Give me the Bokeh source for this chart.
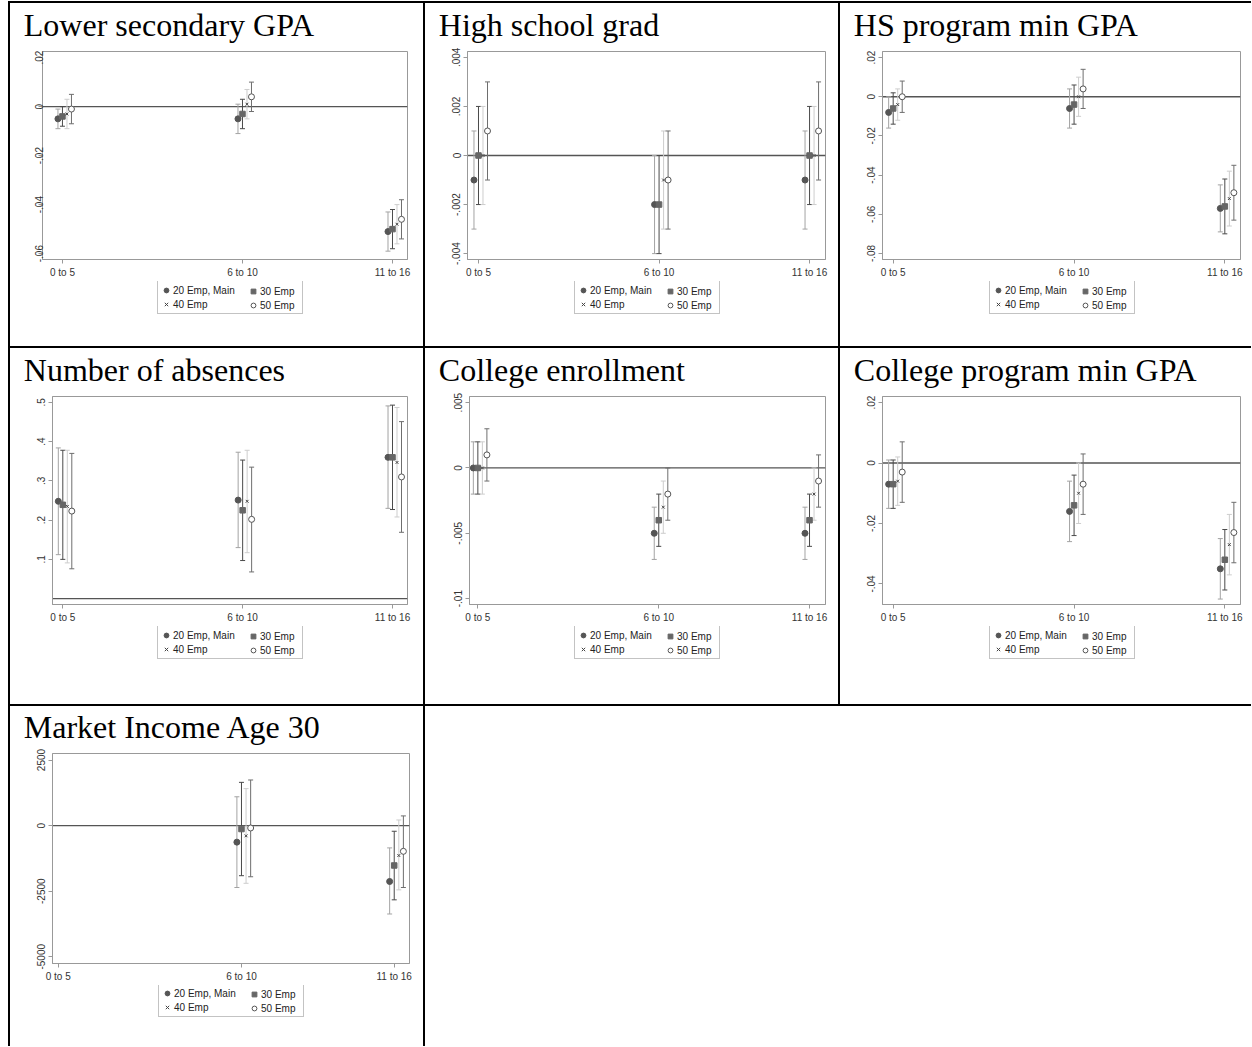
from bokeh.plotting import figure
from bokeh.models import (Range1d, FixedTicker, Span, Whisker, TeeHead, ColumnDataSource,
                          Legend, LegendItem, Div)
from bokeh.layouts import row, column
from bokeh.embed import file_html
from bokeh.resources import INLINE

# ---------------- data ----------------
group_labels = ["0 to 5", "6 to 10", "11 to 16"]
group_x = [0, 6, 11]
series_names = ["20 Emp, Main", "30 Emp", "40 Emp", "50 Emp"]

# Lower secondary GPA  (rows = series 20/30/40/50, cols = groups)
lsgpa_est = [[-0.005, -0.005, -0.051], [-0.004, -0.003, -0.050], [-0.003, 0.001, -0.048], [-0.001, 0.004, -0.046]]
lsgpa_lo = [[-0.009, -0.011, -0.059], [-0.008, -0.009, -0.058], [-0.009, -0.005, -0.056], [-0.007, -0.002, -0.054]]
lsgpa_hi = [[-0.001, 0.001, -0.043], [0.000, 0.003, -0.042], [0.003, 0.007, -0.040], [0.005, 0.010, -0.038]]
lsgpa_yticks = [0.02, 0, -0.02, -0.04, -0.06]
lsgpa_ylabels = [".02", "0", "-.02", "-.04", "-.06"]

# High school grad
hsg_est = [[-0.001, -0.002, -0.001], [0.000, -0.002, 0.000], [0.000, -0.001, 0.000], [0.001, -0.001, 0.001]]
hsg_lo = [[-0.003, -0.004, -0.003], [-0.002, -0.004, -0.002], [-0.002, -0.003, -0.002], [-0.001, -0.003, -0.001]]
hsg_hi = [[0.001, 0.000, 0.001], [0.002, 0.000, 0.002], [0.002, 0.001, 0.002], [0.003, 0.001, 0.003]]
hsg_yticks = [0.004, 0.002, 0, -0.002, -0.004]
hsg_ylabels = [".004", ".002", "0", "-.002", "-.004"]

# HS program min GPA
hsp_est = [[-0.008, -0.006, -0.057], [-0.006, -0.004, -0.056], [-0.004, 0.000, -0.052], [0.000, 0.004, -0.049]]
hsp_lo = [[-0.016, -0.016, -0.069], [-0.014, -0.014, -0.070], [-0.012, -0.010, -0.066], [-0.008, -0.006, -0.063]]
hsp_hi = [[0.000, 0.004, -0.045], [0.002, 0.006, -0.042], [0.004, 0.010, -0.038], [0.008, 0.014, -0.035]]
hsp_yticks = [0.02, 0, -0.02, -0.04, -0.06, -0.08]
hsp_ylabels = [".02", "0", "-.02", "-.04", "-.06", "-.08"]

# Number of absences
abs_est = [[0.248, 0.251, 0.360], [0.239, 0.225, 0.360], [0.235, 0.248, 0.347], [0.223, 0.202, 0.310]]
abs_lo = [[0.112, 0.130, 0.230], [0.100, 0.097, 0.227], [0.091, 0.117, 0.208], [0.076, 0.068, 0.169]]
abs_hi = [[0.384, 0.373, 0.491], [0.378, 0.353, 0.493], [0.378, 0.378, 0.487], [0.370, 0.335, 0.451]]
abs_yticks = [0.5, 0.4, 0.3, 0.2, 0.1]
abs_ylabels = [".5", ".4", ".3", ".2", ".1"]

# College enrollment
ce_est = [[0.000, -0.005, -0.005], [0.000, -0.004, -0.004], [0.000, -0.003, -0.002], [0.001, -0.002, -0.001]]
ce_lo = [[-0.002, -0.007, -0.007], [-0.002, -0.006, -0.006], [-0.002, -0.005, -0.004], [-0.001, -0.004, -0.003]]
ce_hi = [[0.002, -0.003, -0.003], [0.002, -0.002, -0.002], [0.002, -0.001, 0.000], [0.003, 0.000, 0.001]]
ce_yticks = [0.005, 0, -0.005, -0.01]
ce_ylabels = [".005", "0", "-.005", "-.01"]

# College program min GPA
cp_est = [[-0.007, -0.016, -0.035], [-0.007, -0.014, -0.032], [-0.006, -0.010, -0.027], [-0.003, -0.007, -0.023]]
cp_lo = [[-0.015, -0.026, -0.045], [-0.015, -0.024, -0.042], [-0.014, -0.020, -0.037], [-0.013, -0.017, -0.033]]
cp_hi = [[0.001, -0.006, -0.025], [0.001, -0.004, -0.022], [0.002, 0.000, -0.017], [0.007, 0.003, -0.013]]
cp_yticks = [0.02, 0, -0.02, -0.04]
cp_ylabels = [".02", "0", "-.02", "-.04"]

# Market Income Age 30 (no estimate for 0 to 5)
inc_est = [[None, -630, -2130], [None, -130, -1520], [None, -390, -1140], [None, -90, -980]]
inc_lo = [[None, -2360, -3370], [None, -1910, -2830], [None, -2200, -2450], [None, -1950, -2360]]
inc_hi = [[None, 1100, -850], [None, 1650, -215], [None, 1410, 215], [None, 1740, 370]]
inc_yticks = [2500, 0, -2500, -5000]
inc_ylabels = ["2500", "0", "-2500", "-5000"]

# ---------------- style ----------------
OFFSETS = [-0.15, 0.0, 0.15, 0.3]
BAR_COLORS = ["#a3a3a3", "#4a4a4a", "#cdcdcd", "#6e6e6e"]
MARKERS = ["circle", "square", "x", "circle"]
M_FILL = ["#555555", "#666666", None, "white"]
M_LINE = ["#555555", "#666666", "#444444", "#555555"]
M_SIZE = [6, 5.5, 4, 6]
AXIS_GRAY = "#999999"
TXT = "#333333"
AXIS_SPACE = 22          # room under the frame for the x tick labels
LIFT = 10                # main figure starts this much above its cell (transparent border)
LEG_TOP = 279            # legend box top, from the cell top
LEG_H = 32


def marker_kw(i):
    return dict(marker=MARKERS[i], size=M_SIZE[i], fill_color=M_FILL[i],
                line_color=M_LINE[i], line_width=1)


def make_cell(title, est, lo, hi, yticks, ylabels, yr, xr, w, h, bl, br, bt, fb, leg_left,
              ystand=3):
    main_h = fb + AXIS_SPACE + LIFT
    p = figure(width=w, height=main_h, x_range=Range1d(*xr), y_range=Range1d(*yr),
               output_backend="svg", toolbar_location=None,
               min_border_left=bl, min_border_right=br, min_border_top=bt + LIFT,
               min_border_bottom=AXIS_SPACE, margin=(-LIFT, 0, 0, 0))
    p.grid.visible = False
    p.outline_line_color = AXIS_GRAY
    p.outline_line_width = 1
    p.background_fill_color = "white"
    p.border_fill_alpha = 0

    p.title.text = title
    p.title.text_font = "Liberation Serif"
    p.title.text_font_size = "32px"
    p.title.text_font_style = "normal"
    p.title.text_color = "black"
    p.title.align = "left"
    p.title.offset = 13.3 - bl
    p.title.standoff = 18

    p.xaxis.ticker = FixedTicker(ticks=group_x)
    p.xaxis.major_label_overrides = {x: l for x, l in zip(group_x, group_labels)}
    p.yaxis.ticker = FixedTicker(ticks=yticks)
    p.yaxis.major_label_overrides = {v: l for v, l in zip(yticks, ylabels)}
    p.yaxis.major_label_orientation = "vertical"
    for ax in (p.xaxis[0], p.yaxis[0]):
        ax.axis_line_color = AXIS_GRAY
        ax.major_tick_line_color = AXIS_GRAY
        ax.major_tick_out = 4
        ax.major_tick_in = 0
        ax.minor_tick_line_color = None
        ax.major_label_text_font = "Liberation Sans"
        ax.major_label_text_font_size = "10px"
        ax.major_label_text_color = TXT
        ax.major_label_standoff = 3
    p.yaxis.major_label_standoff = ystand

    zero = Span(location=0, dimension="width", line_color="#555555", line_width=1.3, level="underlay")
    p.add_layout(zero)

    sources = []
    for i in range(4):
        xs, ys, los, his = [], [], [], []
        for gx, e, l, u in zip(group_x, est[i], lo[i], hi[i]):
            if e is None:
                continue
            xs.append(gx + OFFSETS[i]); ys.append(e); los.append(l); his.append(u)
        src = ColumnDataSource(dict(x=xs, y=ys, lo=los, hi=his))
        sources.append(src)
        wk = Whisker(source=src, base="x", lower="lo", upper="hi", dimension="height",
                     line_color=BAR_COLORS[i], line_width=1, level="underlay",
                     upper_head=TeeHead(size=5, line_color=BAR_COLORS[i], line_width=1),
                     lower_head=TeeHead(size=5, line_color=BAR_COLORS[i], line_width=1))
        p.add_layout(wk)
        p.scatter("x", "y", source=src, **marker_kw(i))

    # legend strip: its own small figure; its ranges lie far from the data, so only the
    # legend itself shows there
    leg_h = h - (main_h - LIFT)
    q = figure(width=w, height=leg_h, x_range=Range1d(1e6, 1e6 + 1), y_range=Range1d(1e6, 1e6 + 1),
               output_backend="svg", toolbar_location=None,
               x_axis_type=None, y_axis_type=None,
               min_border_left=bl, min_border_right=br, min_border_top=0, min_border_bottom=0)
    q.grid.visible = False
    q.outline_line_color = None
    q.background_fill_color = "white"
    q.border_fill_color = "white"
    lr = [q.scatter("x", "y", source=sources[i], **marker_kw(i)) for i in range(4)]
    ly = leg_h - (LEG_TOP - (main_h - LIFT)) - LEG_H
    lx = leg_left - bl
    common = dict(orientation="vertical", padding=2, spacing=0, margin=0,
                  label_height=14, glyph_height=14, glyph_width=12, label_standoff=1,
                  label_text_font="Liberation Sans", label_text_font_size="10px",
                  label_text_color="#222222", border_line_width=1)
    legA = Legend(items=[LegendItem(label=series_names[0], renderers=[lr[0]]),
                         LegendItem(label=series_names[2], renderers=[lr[2]])],
                  location=(lx, ly), label_width=127,
                  border_line_color="#888888",
                  background_fill_color="white", **common)
    legB = Legend(items=[LegendItem(label=series_names[1], renderers=[lr[1]]),
                         LegendItem(label=series_names[3], renderers=[lr[3]])],
                  location=(lx + 88, ly), label_width=20,
                  border_line_color="white", border_line_alpha=0,
                  background_fill_alpha=0, **common)
    q.add_layout(legA)
    q.add_layout(legB)
    return column(p, q, spacing=0)


W1, W2, W3 = 413, 413, 411
H1, H2, H3 = 343, 356, 340

c1 = make_cell("Lower secondary GPA", lsgpa_est, lsgpa_lo, lsgpa_hi, lsgpa_yticks, lsgpa_ylabels,
               (-0.0624, 0.0225), (-0.665, 11.5), W1, H1, 32, 16, 48, 256, 147, ystand=-5)
c2 = make_cell("High school grad", hsg_est, hsg_lo, hsg_hi, hsg_yticks, hsg_ylabels,
               (-0.00424, 0.00424), (-0.365, 11.53), W2, H1, 42, 13, 48, 256, 149)
c3 = make_cell("HS program min GPA", hsp_est, hsp_lo, hsp_hi, hsp_yticks, hsp_ylabels,
               (-0.0831, 0.0231), (-0.354, 11.52), W3, H1, 42, 11, 48, 256, 149)
c4 = make_cell("Number of absences", abs_est, abs_lo, abs_hi, abs_yticks, abs_ylabels,
               (-0.015, 0.515), (-0.344, 11.5), W1, H2, 42, 16, 48, 256, 147)
c5 = make_cell("College enrollment", ce_est, ce_lo, ce_hi, ce_yticks, ce_ylabels,
               (-0.01045, 0.00547), (-0.277, 11.53), W2, H2, 44, 13, 48, 256, 149)
c6 = make_cell("College program min GPA", cp_est, cp_lo, cp_hi, cp_yticks, cp_ylabels,
               (-0.0468, 0.022), (-0.354, 11.52), W3, H2, 42, 11, 48, 256, 149)
c7 = make_cell("Market Income Age 30", inc_est, inc_lo, inc_hi, inc_yticks, inc_ylabels,
               (-5258, 2750), (-0.186, 11.5), W1, H3, 42, 14, 47, 257, 148)


def hline(w):
    return Div(text="", width=w, height=2, margin=0, styles={"background-color": "black"})


def vline(h):
    return Div(text="", width=2, height=h, margin=0, styles={"background-color": "black"})


TOTAL_W = 2 + W1 + 2 + W2 + 2 + W3
row1 = row(vline(H1), c1, vline(H1), c2, vline(H1), c3, spacing=0)
row2 = row(vline(H2), c4, vline(H2), c5, vline(H2), c6, spacing=0)
row3 = row(vline(H3), c7, vline(H3), spacing=0)
layout = column(hline(TOTAL_W), row1, hline(TOTAL_W), row2, hline(TOTAL_W), row3,
                spacing=0, margin=(1, 0, 0, 8))

open("out.html", "w").write(file_html(layout, INLINE))
